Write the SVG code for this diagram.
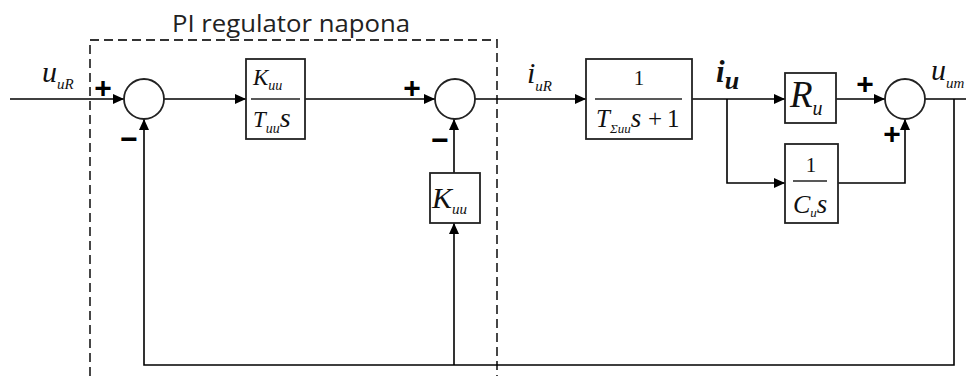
<svg xmlns="http://www.w3.org/2000/svg" width="966" height="376" viewBox="0 0 966 376">
<defs>
<marker id="arr" markerUnits="userSpaceOnUse" markerWidth="12" markerHeight="10" refX="11" refY="5" orient="auto">
<path d="M0,0 L11,5 L0,10 z" fill="#000"/>
</marker>
<style>
.ln{fill:none;stroke:#000;stroke-width:1.6}
.blk{fill:#fff;stroke:#222;stroke-width:1.8}
.sum{fill:#fff;stroke:#222;stroke-width:1.8}
.dash{fill:none;stroke:#333;stroke-width:1.8;stroke-dasharray:9,5}
.m{font-family:"Liberation Serif",serif;font-style:italic;fill:#111}
.r{font-family:"Liberation Serif",serif;fill:#111}
.sg{font-family:"Liberation Sans",sans-serif;font-weight:bold;fill:#000;font-size:30px}
.title{font-family:"Open Sans",sans-serif;font-size:23px;fill:#222}
.frac{stroke:#222;stroke-width:1.4}
</style>
</defs>
<rect width="966" height="376" fill="#fff"/>

<g id="pi-box">
<path class="dash" d="M90,376 V40 H497 V376"/>
<text class="title" x="172" y="32" textLength="238" lengthAdjust="spacingAndGlyphs">PI regulator napona</text>
</g>

<g id="connectors">
<line class="ln" x1="10" y1="99" x2="124" y2="99" marker-end="url(#arr)"/>
<line class="ln" x1="164" y1="99" x2="246" y2="99" marker-end="url(#arr)"/>
<line class="ln" x1="305" y1="99" x2="435" y2="99" marker-end="url(#arr)"/>
<line class="ln" x1="475" y1="99" x2="586" y2="99" marker-end="url(#arr)"/>
<line class="ln" x1="692" y1="99" x2="785" y2="99" marker-end="url(#arr)"/>
<path class="ln" d="M727,99 V183 H785" marker-end="url(#arr)"/>
<line class="ln" x1="836" y1="99" x2="885" y2="99" marker-end="url(#arr)"/>
<path class="ln" d="M838,183 H905 V119" marker-end="url(#arr)"/>
<line class="ln" x1="925" y1="99" x2="966" y2="99"/>
<path class="ln" d="M954,99 V365 H144 V119" marker-end="url(#arr)"/>
<line class="ln" x1="454" y1="365" x2="454" y2="223" marker-end="url(#arr)"/>
<line class="ln" x1="454" y1="173" x2="454" y2="119" marker-end="url(#arr)"/>
</g>

<g id="labels">
<text class="m" x="42" y="82" font-size="30">u<tspan font-size="15" dy="7">uR</tspan></text>
<text class="m" x="527" y="83" font-size="30">i<tspan font-size="15" dy="8">uR</tspan></text>
<text class="m" x="716" y="82" font-size="31" font-weight="bold">i<tspan font-size="26" dy="7">u</tspan></text>
<text class="m" x="931" y="80" font-size="30">u<tspan font-size="15" dy="8">um</tspan></text>
</g>

<g id="sum1">
<circle class="sum" cx="144" cy="99" r="20"/>
<text class="sg" x="103" y="98" text-anchor="middle">+</text>
<text class="sg" x="129" y="149" text-anchor="middle">−</text>
</g>

<g id="block-pi-int">
<rect class="blk" x="246" y="59" width="59" height="80"/>
<text class="m" x="253" y="85" font-size="23">K<tspan font-size="14" dy="5">uu</tspan></text>
<line class="frac" x1="251" y1="99" x2="300" y2="99"/>
<text class="m" x="253" y="127" font-size="23">T<tspan font-size="14" dy="6">uu</tspan><tspan font-size="28" dy="-6">s</tspan></text>
</g>

<g id="sum2">
<circle class="sum" cx="455" cy="99" r="20"/>
<text class="sg" x="412" y="98" text-anchor="middle">+</text>
<text class="sg" x="440" y="150" text-anchor="middle">−</text>
</g>

<g id="block-kuu">
<rect class="blk" x="430" y="173" width="50" height="50"/>
<text class="m" x="432" y="208" font-size="30">K<tspan font-size="15" dy="6">uu</tspan></text>
</g>

<g id="block-current">
<rect class="blk" x="586" y="59" width="106" height="80"/>
<text class="r" x="639" y="85" font-size="21" text-anchor="middle">1</text>
<line class="frac" x1="595" y1="99" x2="682" y2="99"/>
<text class="m" x="596" y="127" font-size="25">T<tspan font-size="13" dy="6">Σuu</tspan><tspan font-size="27" dy="-6">s</tspan></text>
<text class="r" x="648" y="127" font-size="25">+</text>
<text class="r" x="667" y="127" font-size="25">1</text>
</g>

<g id="block-ru">
<rect class="blk" x="785" y="73" width="51" height="50"/>
<text class="m" x="790" y="107" font-size="37">R<tspan font-size="20" dy="8">u</tspan></text>
</g>

<g id="block-cu">
<rect class="blk" x="785" y="144" width="53" height="79"/>
<text class="r" x="811" y="172" font-size="21" text-anchor="middle">1</text>
<line class="frac" x1="793" y1="181" x2="827" y2="181"/>
<text class="m" x="793" y="213" font-size="26">C<tspan font-size="13" dy="4">u</tspan><tspan font-size="27" dy="-4">s</tspan></text>
</g>

<g id="sum3">
<circle class="sum" cx="905" cy="99" r="20"/>
<text class="sg" x="865" y="94" text-anchor="middle">+</text>
<text class="sg" x="892" y="144" text-anchor="middle">+</text>
</g>
</svg>
